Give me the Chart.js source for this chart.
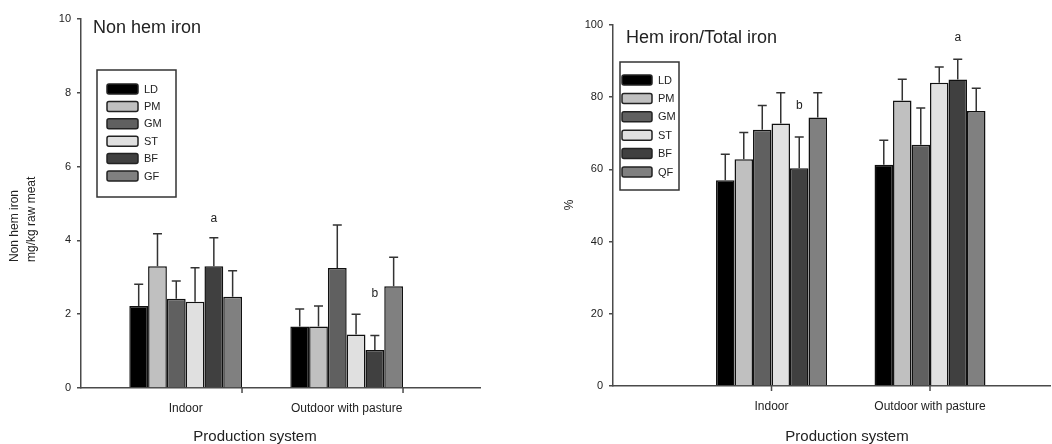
<!DOCTYPE html>
<html><head><meta charset="utf-8">
<script src="https://cdn.jsdelivr.net/npm/chart.js@4.4.1/dist/chart.umd.min.js"></script>
<style>
html,body{margin:0;padding:0;background:#fff;width:1052px;height:444px;overflow:hidden}
#l{position:absolute;left:0;top:0}
#r{position:absolute;left:530px;top:0}
</style></head><body>
<canvas id="l" width="530" height="444"></canvas>
<canvas id="r" width="522" height="444"></canvas>
<script>
// ---- data ----
const categories = ['Indoor', 'Outdoor with pasture'];
const seriesLeft = ['LD', 'PM', 'GM', 'ST', 'BF', 'GF'];
const seriesRight = ['LD', 'PM', 'GM', 'ST', 'BF', 'QF'];
const seriesColors = ['#000000', '#c0c0c0', '#606060', '#e0e0e0', '#404040', '#808080'];
const nonHemIndoor = [2.22, 3.30, 2.42, 2.34, 3.30, 2.47];
const nonHemIndoorSD = [0.59, 0.88, 0.48, 0.92, 0.77, 0.71];
const nonHemOutdoor = [1.67, 1.67, 3.25, 1.45, 1.03, 2.76];
const nonHemOutdoorSD = [0.47, 0.55, 1.17, 0.55, 0.39, 0.78];
const hemRatioIndoor = [57.0, 62.8, 71.0, 72.7, 60.3, 74.4];
const hemRatioIndoorSD = [7.2, 7.4, 6.7, 8.5, 8.7, 6.8];
const hemRatioOutdoor = [61.3, 79.1, 66.8, 84.0, 84.9, 76.2];
const hemRatioOutdoorSD = [6.8, 5.9, 10.2, 4.4, 5.6, 6.3];
const nonHemTicks = [0, 2, 4, 6, 8, 10];
const hemRatioTicks = [0, 20, 40, 60, 80, 100];
// significance letters: [text, category index, series index, y value]
const nonHemLetters = [['a', 0, 4, 4.6], ['b', 1, 4, 2.55]];
const hemRatioLetters = [['b', 0, 4, 77.7], ['a', 1, 4, 96.6]];

const FONT = '"Liberation Sans", Arial, sans-serif';
const TXT = '#222';
const AX = '#4a4a4a';

function buildDatasets(names, byCat) {
  return names.map((n, i) => ({
    label: n,
    data: byCat.map((vals, k) => ({ x: k + 1, y: vals[i] })),
    backgroundColor: seriesColors[i],
    borderColor: '#111',
    borderWidth: 1.5,
    categoryPercentage: 0.70,
    barPercentage: 1.0
  }));
}

const deco = {
  id: 'deco',
  afterDatasetsDraw(chart, args, o) {
    const ctx = chart.ctx, xs = chart.scales.x, ys = chart.scales.y;
    ctx.save();
    // error bars
    ctx.strokeStyle = '#333'; ctx.lineWidth = 1.5;
    chart.data.datasets.forEach((ds, i) => {
      const meta = chart.getDatasetMeta(i);
      meta.data.forEach((el, k) => {
        const top = ys.getPixelForValue(o.means[k][i] + o.sds[k][i]);
        ctx.beginPath();
        ctx.moveTo(el.x, el.y); ctx.lineTo(el.x, top);
        ctx.moveTo(el.x - 4.5, top); ctx.lineTo(el.x + 4.5, top);
        ctx.stroke();
      });
    });
    // x tick marks
    ctx.strokeStyle = AX; ctx.lineWidth = 1.5;
    categories.forEach((c, k) => {
      const px = xs.getPixelForValue(k + 1 + o.tickOffset);
      ctx.beginPath(); ctx.moveTo(px, xs.top); ctx.lineTo(px, xs.top + 5); ctx.stroke();
    });
    // letters
    ctx.fillStyle = TXT; ctx.font = '12px ' + FONT;
    ctx.textAlign = 'center'; ctx.textBaseline = 'middle';
    o.letters.forEach(([t, k, s, y]) => {
      const el = chart.getDatasetMeta(s).data[k];
      ctx.fillText(t, el.x, ys.getPixelForValue(y));
    });
    // title
    ctx.textAlign = 'left'; ctx.textBaseline = 'alphabetic';
    ctx.font = '18px ' + FONT;
    ctx.fillText(o.title, o.titleX, o.titleY);
    // y-axis title
    ctx.font = '12px ' + FONT;
    o.yTitle.forEach(([t, x, y, align]) => {
      ctx.save(); ctx.translate(x, y); ctx.rotate(-Math.PI / 2);
      ctx.textAlign = align; ctx.textBaseline = 'middle';
      ctx.fillText(t, 0, 0); ctx.restore();
    });
    // x-axis title
    ctx.font = '15px ' + FONT; ctx.textAlign = 'center';
    ctx.fillText('Production system', o.xTitleX, 441);
    // legend
    const L = o.legend;
    ctx.strokeStyle = '#333'; ctx.lineWidth = 1.5;
    ctx.strokeRect(L.x, L.y, L.w, L.h);
    ctx.font = '11px ' + FONT; ctx.textAlign = 'left'; ctx.textBaseline = 'middle';
    chart.data.datasets.forEach((ds, i) => {
      const cy = L.row0 + i * L.step;
      ctx.fillStyle = ds.backgroundColor;
      ctx.beginPath();
      if (ctx.roundRect) ctx.roundRect(L.sx, cy - 5, L.sw, 10, 2); else ctx.rect(L.sx, cy - 5, L.sw, 10);
      ctx.fill();
      ctx.strokeStyle = '#222'; ctx.lineWidth = 1.5; ctx.stroke();
      ctx.fillStyle = TXT;
      ctx.fillText(ds.label, L.tx, cy + 0.5);
    });
    ctx.restore();
  }
};

function makeChart(id, names, means, sds, yTicks, xmin, xmax, yAxisW, xAxisH, pad, decoOpts) {
  return new Chart(document.getElementById(id), {
    type: 'bar',
    data: { datasets: buildDatasets(names, means) },
    options: {
      responsive: false, animation: false, devicePixelRatio: 1,
      layout: { padding: pad },
      plugins: { legend: { display: false }, tooltip: { enabled: false }, deco: Object.assign({ means, sds }, decoOpts) },
      scales: {
        x: {
          type: 'linear', min: xmin, max: xmax, offset: false,
          afterBuildTicks: s => { s.ticks = categories.map((c, k) => ({ value: k + 1 })); },
          afterFit: s => { s.height = xAxisH; },
          grid: { display: true, drawOnChartArea: false, drawTicks: false, offset: false, color: AX },
          border: { display: true, color: AX, width: 1.5 },
          ticks: { padding: 13, color: TXT, font: { family: FONT, size: 12 }, maxRotation: 0, autoSkip: false,
                   callback: v => categories[Math.round(v) - 1] }
        },
        y: {
          min: yTicks[0], max: yTicks[yTicks.length - 1],
          afterBuildTicks: s => { s.ticks = yTicks.map(v => ({ value: v })); },
          afterFit: s => { s.width = yAxisW; },
          grid: { display: true, drawOnChartArea: false, drawTicks: true, tickLength: 4, color: AX, lineWidth: 1.5 },
          border: { display: true, color: AX, width: 1.5 },
          ticks: { padding: 6, color: TXT, font: { family: FONT, size: 11 } }
        }
      }
    },
    plugins: [deco]
  });
}

makeChart('l', seriesLeft,
  [nonHemIndoor, nonHemOutdoor], [nonHemIndoorSD, nonHemOutdoorSD], nonHemTicks,
  0.35, 2.828, 81, 56, { left: 0, top: 19, right: 50, bottom: 0 },
  { tickOffset: 0.35, letters: nonHemLetters, title: 'Non hem iron', titleX: 93, titleY: 33,
    yTitle: [['Non hem iron', 15, 262, 'left'], ['mg/kg raw meat', 32, 262, 'left']],
    xTitleX: 255,
    legend: { x: 97, y: 70, w: 79, h: 127, sx: 107, sw: 31, tx: 144, row0: 89, step: 17.4 } });

makeChart('r', seriesRight,
  [hemRatioIndoor, hemRatioOutdoor], [hemRatioIndoorSD, hemRatioOutdoorSD], hemRatioTicks,
  0, 2.757, 83, 58, { left: 0, top: 25, right: 2, bottom: 0 },
  { tickOffset: 0, letters: hemRatioLetters, title: 'Hem iron/Total iron', titleX: 96, titleY: 43,
    yTitle: [['%', 40, 205, 'center']],
    xTitleX: 317,
    legend: { x: 90, y: 62, w: 59, h: 128, sx: 92, sw: 30, tx: 128, row0: 80, step: 18.4 } });
</script>
</body></html>
